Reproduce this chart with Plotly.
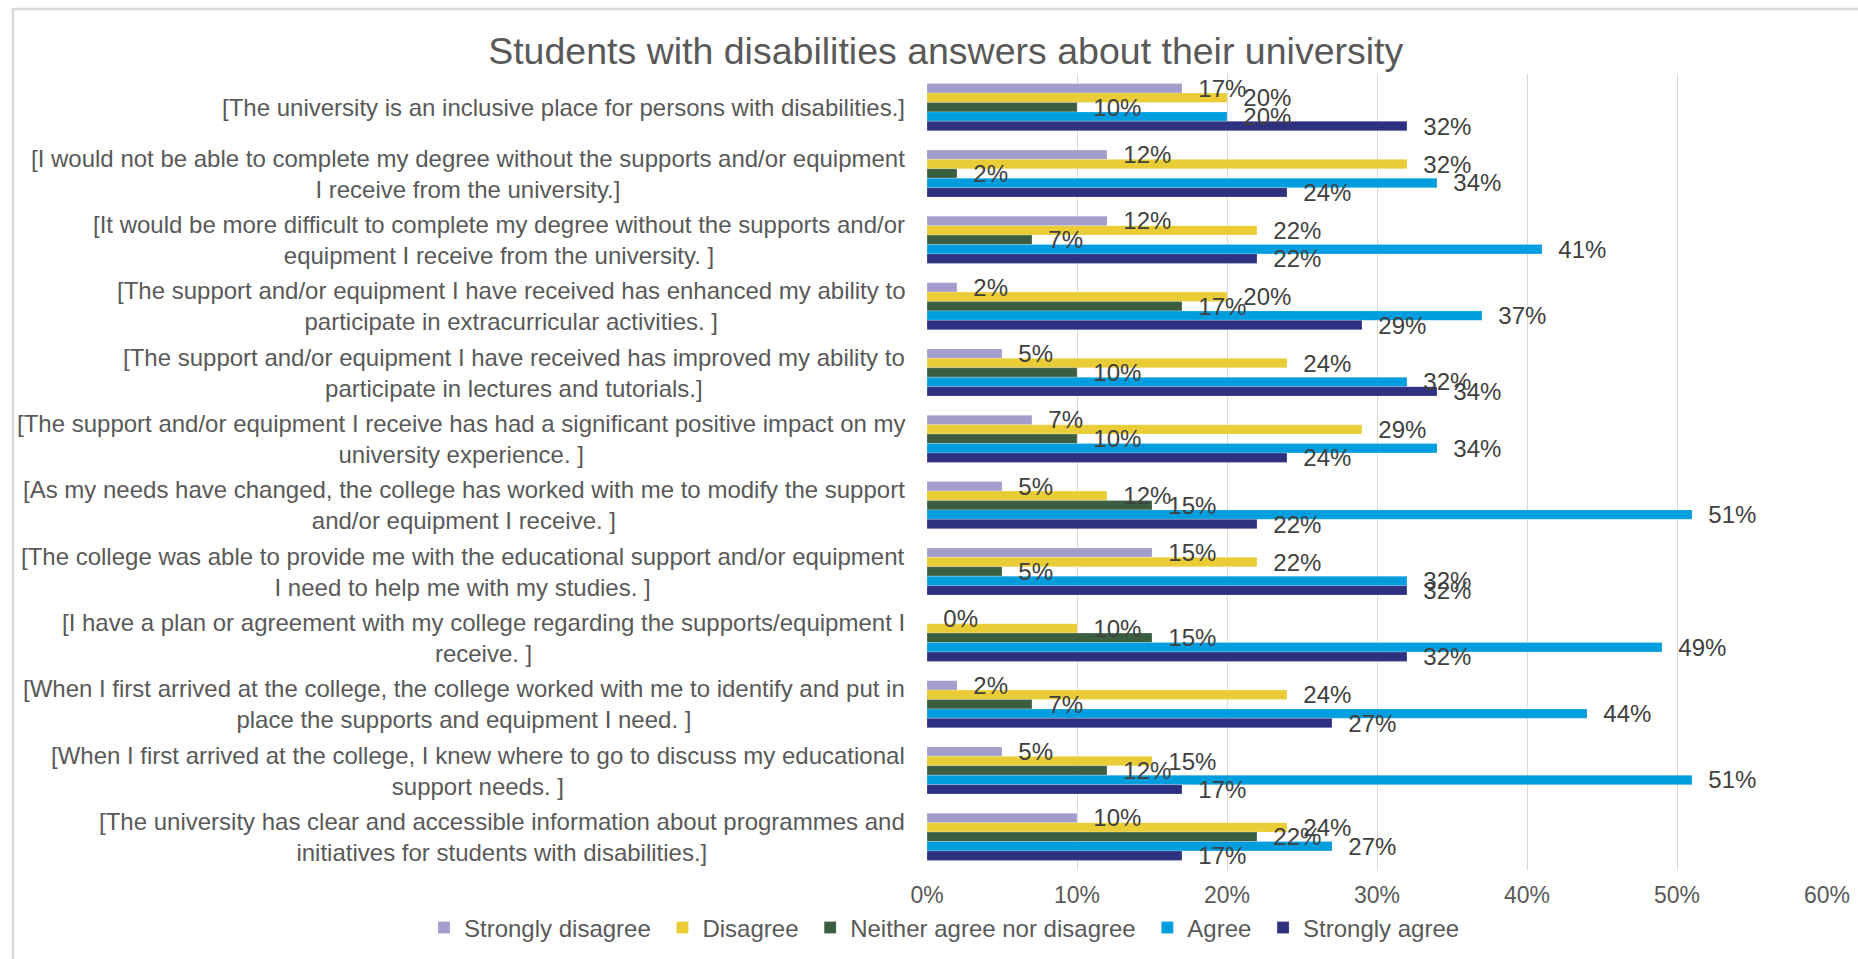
import plotly.graph_objects as go

# Survey statements (line breaks where the label wraps)
statements = [
    "[The university is an inclusive place for persons with disabilities.]",
    "[I would not be able to complete my degree without the supports and/or equipment<br>I receive from the university.]",
    "[It would be more difficult to complete my degree without the supports and/or<br>equipment I receive from the university. ]",
    "[The support and/or equipment I have received has enhanced my ability to<br>participate in extracurricular activities. ]",
    "[The support and/or equipment I have received has improved my ability to<br>participate in lectures and tutorials.]",
    "[The support and/or equipment I receive has had a significant positive impact on my<br>university experience. ]",
    "[As my needs have changed, the college has worked with me to modify the support<br>and/or equipment I receive. ]",
    "[The college was able to provide me with the educational support and/or equipment<br>I need to help me with my studies. ]",
    "[I have a plan or agreement with my college regarding the supports/equipment I<br>receive. ]",
    "[When I first arrived at the college, the college worked with me to identify and put in<br>place the supports and equipment I need. ]",
    "[When I first arrived at the college, I knew where to go to discuss my educational<br>support needs. ]",
    "[The university has clear and accessible information about programmes and<br>initiatives for students with disabilities.]",
]

# Share of respondents (%) per answer
strongly_disagree = [17, 12, 12, 2, 5, 7, 5, 15, 0, 2, 5, 10]
disagree = [20, 32, 22, 20, 24, 29, 12, 22, 10, 24, 15, 24]
neither = [10, 2, 7, 17, 10, 10, 15, 5, 15, 7, 12, 22]
agree = [20, 34, 41, 37, 32, 34, 51, 32, 49, 44, 51, 27]
strongly_agree = [32, 24, 22, 29, 34, 24, 22, 32, 32, 27, 17, 17]

series_names = ["Strongly disagree", "Disagree", "Neither agree nor disagree", "Agree", "Strongly agree"]
series_values = [strongly_disagree, disagree, neither, agree, strongly_agree]
series_colors = ["#A29DCB", "#EACD36", "#3B5E41", "#009DDF", "#2E3180"]

x_tick_values = [0, 10, 20, 30, 40, 50, 60]
x_tick_labels = ["0%", "10%", "20%", "30%", "40%", "50%", "60%"]

FONT = "Liberation Sans, Arial, sans-serif"
W, H = 1858, 959
L, R, T, B = 927, 31, 74, 89
plot_w = W - L - R
plot_h = H - T - B

fig = go.Figure()

# Coloured bars (a trailing no-break space widens each legend entry a little)
for i, (name, vals, col) in enumerate(zip(series_names, series_values, series_colors)):
    fig.add_trace(go.Bar(
        name=name + "\u00a0",
        y=statements,
        x=vals,
        orientation="h",
        offsetgroup=str(i),
        marker=dict(color=col, line=dict(color="rgba(255,255,255,0.45)", width=0.5)),
        hoverinfo="skip",
    ))

# Value labels, drawn after every bar so that they sit on top
for i, vals in enumerate(series_values):
    fig.add_trace(go.Bar(
        y=statements,
        x=vals,
        orientation="h",
        offsetgroup=str(i),
        marker=dict(color="rgba(0,0,0,0)", line=dict(width=0)),
        texttemplate="\u00a0\u00a0%{x:.0f}%",
        textposition="outside",
        constraintext="none",
        cliponaxis=False,
        textfont=dict(family=FONT, size=24, color="#404040"),
        showlegend=False,
        hoverinfo="skip",
    ))

# Category labels: right-aligned block, centred lines
for s in statements:
    fig.add_annotation(
        x=0, xref="paper", y=s, yref="y",
        text=s, showarrow=False,
        xanchor="right", yanchor="middle", align="center",
        xshift=-22, borderpad=0, borderwidth=0,
        font=dict(family=FONT, size=24, color="#595959"),
    )

# Chart-area frame
fig.add_shape(
    type="rect", xref="paper", yref="paper",
    x0=(13 - L) / plot_w, x1=(W + 20 - L) / plot_w,
    y0=(H - B - (H + 20)) / plot_h, y1=(H - B - 9) / plot_h,
    line=dict(color="#D9D9D9", width=2.5), fillcolor="rgba(0,0,0,0)", layer="below",
)

fig.update_layout(
    width=W, height=H,
    margin=dict(l=L, r=R, t=T, b=B, pad=0, autoexpand=False),
    paper_bgcolor="white", plot_bgcolor="white",
    barmode="group", bargap=0.29, bargroupgap=0,
    title=dict(
        text="Students with disabilities answers about their university",
        x=0.509, xref="container", xanchor="center",
        y=1 - 51 / H, yref="container", yanchor="middle",
        font=dict(family=FONT, size=37.5, color="#595959"),
    ),
    xaxis=dict(
        range=[0, 60], tickmode="array",
        tickvals=x_tick_values, ticktext=x_tick_labels,
        showgrid=True, gridcolor="#D9D9D9", gridwidth=1.3,
        zeroline=False, showline=False, ticks="",
        ticklabelstandoff=9,
        tickfont=dict(family=FONT, size=23, color="#595959"),
    ),
    yaxis=dict(
        type="category", autorange="reversed",
        showticklabels=False, showgrid=False, zeroline=False,
        showline=False, ticks="",
    ),
    legend=dict(
        orientation="h", xref="paper", yref="paper",
        x=(424 - L) / plot_w, xanchor="left",
        y=(H - B - 928) / plot_h, yanchor="middle",
        font=dict(family=FONT, size=24, color="#595959"),
        bgcolor="rgba(0,0,0,0)", traceorder="normal",
    ),
    showlegend=True,
)

fig.write_html("out.html")
